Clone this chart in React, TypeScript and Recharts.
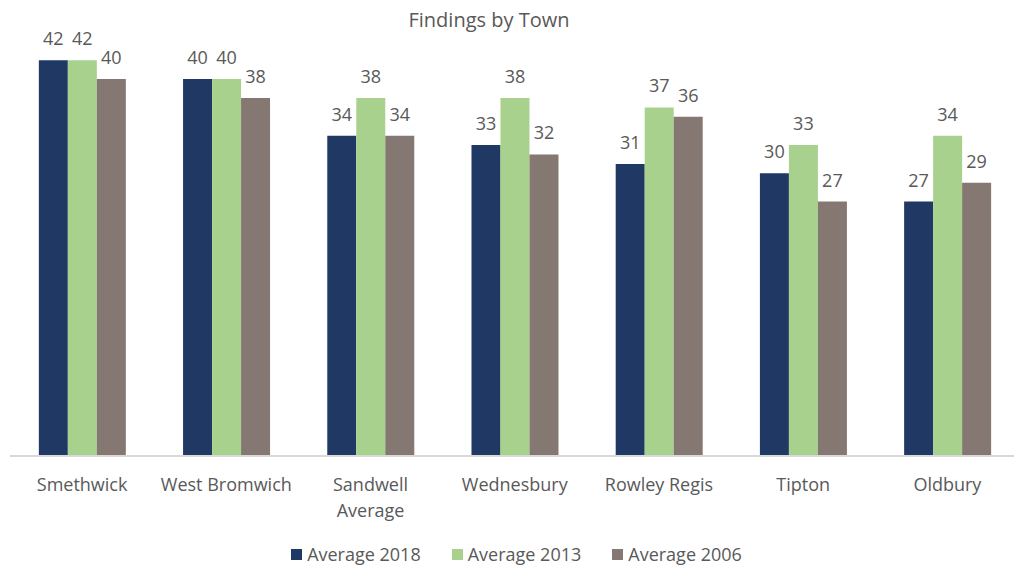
import React from "react";
import { BarChart, Bar, XAxis, YAxis, Legend, LabelList } from "recharts";

const towns = ["Smethwick", "West Bromwich", "Sandwell Average", "Wednesbury", "Rowley Regis", "Tipton", "Oldbury"];
const tickLabels: string[][] = [
  ["Smethwick"],
  ["West Bromwich"],
  ["Sandwell", "Average"],
  ["Wednesbury"],
  ["Rowley Regis"],
  ["Tipton"],
  ["Oldbury"],
];
const avg2018 = [42, 40, 34, 33, 31, 30, 27];
const avg2013 = [42, 40, 38, 38, 37, 33, 34];
const avg2006 = [40, 38, 34, 32, 36, 27, 29];

const seriesNames = ["Average 2018", "Average 2013", "Average 2006"];
const seriesColors = ["#203864", "#A9D18E", "#857872"];

const data = towns.map((t, i) => ({
  town: t,
  a2018: avg2018[i],
  a2013: avg2013[i],
  a2006: avg2006[i],
}));

const FONT = "'Open Sans', sans-serif";
const TEXT = "#595959";

const Tick = (props: any) => {
  const { x, y, index } = props;
  const lines = tickLabels[index] || [String(props.payload?.value)];
  return (
    <text x={x} y={y} textAnchor="middle" fill={TEXT} fontSize={18} fontFamily={FONT}>
      {lines.map((l, i) => (
        <tspan key={i} x={x} y={y + 35 + i * 25.5}>
          {l}
        </tspan>
      ))}
    </text>
  );
};

const LegendContent = () => (
  <div
    style={{
      display: "flex",
      justifyContent: "center",
      alignItems: "center",
      height: 26,
      fontFamily: FONT,
      fontSize: 18,
      color: TEXT,
      lineHeight: "26px",
    }}
  >
    {seriesNames.map((n, i) => (
      <div key={n} style={{ display: "flex", alignItems: "center", marginLeft: i === 0 ? 0 : 31 }}>
        <div style={{ width: 11, height: 11, background: seriesColors[i], marginRight: 5 }} />
        <span>{n}</span>
      </div>
    ))}
  </div>
);

export default function App() {
  return (
    <div style={{ position: "fixed", left: 0, top: 0, width: 1014, height: 567, overflow: "hidden", background: "#fff" }}>
      <BarChart
        width={1024}
        height={567}
        data={data}
        margin={{ top: 32, right: 4.5, left: 10, bottom: 0 }}
        barCategoryGap="20%"
        barGap={0}
      >
        <text x={489} y={27} textAnchor="middle" fill={TEXT} fontSize={20} fontFamily={FONT}>
          Findings by Town
        </text>
        <XAxis
          dataKey="town"
          height={85}
          tickLine={false}
          tickSize={0}
          tickMargin={0}
          interval={0}
          axisLine={{ stroke: "#D9D9D9", strokeWidth: 2 }}
          tick={<Tick />}
        />
        <YAxis hide domain={[0, 45]} />
        <Legend
          verticalAlign="bottom"
          content={<LegendContent />}
          wrapperStyle={{ left: 0, width: 1033, bottom: 0 }}
        />
        {["a2018", "a2013", "a2006"].map((k, i) => (
          <Bar key={k} dataKey={k} name={seriesNames[i]} fill={seriesColors[i]} isAnimationActive={false}>
            <LabelList dataKey={k} position="top" offset={15} fill={TEXT} fontSize={18} fontFamily={FONT} />
          </Bar>
        ))}
      </BarChart>
    </div>
  );
}
